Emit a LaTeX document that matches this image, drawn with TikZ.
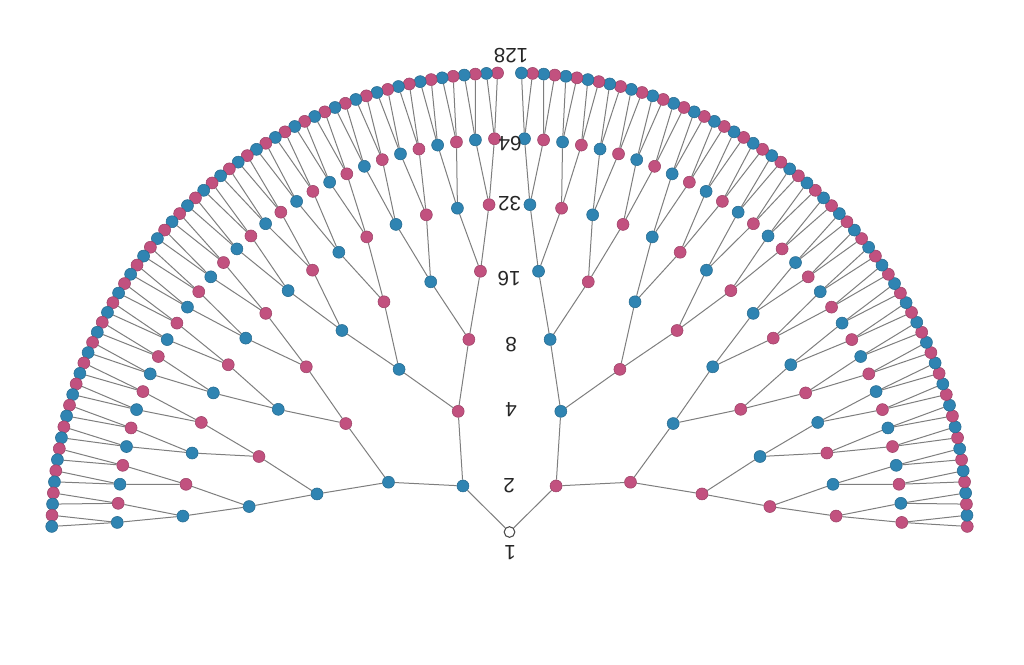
\documentclass[tikz,border=0pt]{standalone}
\usepackage{fontspec}
\setmainfont{Liberation Sans}
\usetikzlibrary{backgrounds}
\definecolor{tblue}{HTML}{2F84B2}
\definecolor{tpink}{HTML}{C2517F}
\definecolor{tedge}{HTML}{7E7E7E}
\tikzset{
  edge/.style={draw=tedge, line width=0.75pt},
  dotbase/.style={circle, inner sep=0pt, minimum size=9pt, line width=0.4pt},
  bluedot/.style={dotbase, fill=tblue, draw=tblue!80!black},
  pinkdot/.style={dotbase, fill=tpink, draw=tpink!80!black},
  rootdot/.style={circle, inner sep=0pt, minimum size=8pt, draw=black!70, fill=white, line width=0.8pt},
  lab/.style={font=\fontsize{15.5}{16}\selectfont, rotate=180, inner sep=0pt, text=black!85}
}
\begin{document}
\begin{tikzpicture}[x=0.75pt, y=-0.75pt]
\useasboundingbox (0,0) rectangle (1024,664);
\node[rootdot] (n-0-0) at (509.5,532) {};
\foreach \k in {1,...,7}{
  \pgfmathtruncatemacro{\nmax}{2^\k-1}
  \foreach \j in {0,...,\nmax}{
    \pgfmathsetmacro{\t}{((\j+0.5)/(2^\k))*180}
    \pgfmathsetmacro{\tw}{\t<90 ? 90-(0.8+(90-\t)*89.2/90) : 90+(0.8+(\t-90)*89.2/90)}
    \pgfmathsetmacro{\px}{509.5+65.4*\k*cos(\tw)}
    \pgfmathsetmacro{\py}{532-65.6*\k*sin(\tw)}
    \pgfmathtruncatemacro{\odd}{mod(\j,2)}
    \ifnum\odd=1
      \node[bluedot] (n-\k-\j) at (\px,\py) {};
    \else
      \node[pinkdot] (n-\k-\j) at (\px,\py) {};
    \fi
  }
}
\begin{scope}[on background layer]
\foreach \k in {1,...,7}{
  \pgfmathtruncatemacro{\nmax}{2^\k-1}
  \pgfmathtruncatemacro{\km}{\k-1}
  \foreach \j in {0,...,\nmax}{
    \pgfmathtruncatemacro{\pj}{div(\j,2)}
    \draw[edge] (n-\km-\pj) -- (n-\k-\j);
  }
}
\end{scope}
\node[lab] (l1) at (510,553) {1};
\node[lab] (l2) at (509,485.5) {2};
\node[lab] (l4) at (511,410) {4};
\node[lab] (l8) at (511,345) {8};
\node[lab] (l16) at (509,279) {16};
\node[lab] (l32) at (509.5,204) {32};
\node[lab] (l64) at (510,144) {64};
\node[lab] (l128) at (511,56) {128};
\end{tikzpicture}
\end{document}
